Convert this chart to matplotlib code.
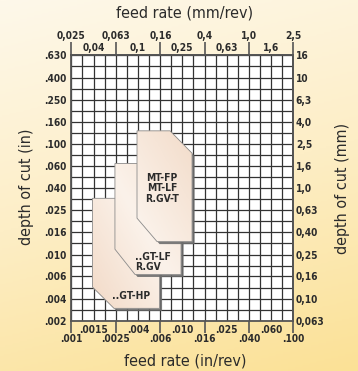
import numpy as np
import matplotlib
matplotlib.use("Agg")
import matplotlib.pyplot as plt
from matplotlib import font_manager as fm
from matplotlib.patches import Polygon
import matplotlib.patheffects as pe
from matplotlib.colors import LinearSegmentedColormap

# feed rate axis: mm/rev on top, in/rev on bottom (same positions)
feed_mm_major = [0.025, 0.063, 0.16, 0.4, 1.0, 2.5]
feed_mm_major_labels = ["0,025", "0,063", "0,16", "0,4", "1,0", "2,5"]
feed_mm_minor = [0.04, 0.1, 0.25, 0.63, 1.6]
feed_mm_minor_labels = ["0,04", "0,1", "0,25", "0,63", "1,6"]
feed_in_major_labels = [".001", ".0025", ".006", ".016", ".040", ".100"]
feed_in_minor_labels = [".0015", ".004", ".010", ".025", ".060"]

# depth of cut axis: mm on the right, in on the left
depth_mm = [0.063, 0.1, 0.16, 0.25, 0.4, 0.63, 1.0, 1.6, 2.5, 4.0, 6.3, 10, 16]
depth_mm_labels = ["0,063", "0,10", "0,16", "0,25", "0,40", "0,63", "1,0",
                   "1,6", "2,5", "4,0", "6,3", "10", "16"]
depth_in_labels = [".002", ".004", ".006", ".010", ".016", ".025", ".040",
                   ".060", ".100", ".160", ".250", ".400", ".630"]

# application areas (feed mm/rev, depth mm), drawn back to front
hp_feed = [0.039, 0.157, 0.157, 0.061, 0.039]
hp_depth = [0.81, 0.81, 0.082, 0.082, 0.128]
hp_label = "..GT-HP"

lf_feed = [0.0622, 0.20, 0.245, 0.245, 0.0943, 0.0622]
lf_depth = [1.67, 1.67, 1.2, 0.166, 0.166, 0.281]
lf_label = "..GT-LF\nR.GV"

fp_feed = [0.0983, 0.195, 0.308, 0.308, 0.149, 0.0983]
fp_depth = [3.30, 3.30, 2.07, 0.329, 0.329, 0.536]
fp_label = "MT-FP\nMT-LF\nR.GV-T"


def pick_font(candidates):
    files = [f.fname for f in fm.fontManager.ttflist]
    for c in candidates:
        for p in files:
            if p.endswith(c):
                return fm.FontProperties(fname=p)
    return None


reg = pick_font(["LiberationSansNarrow-Regular.ttf", "DejaVuSansCondensed.ttf"])
bold = pick_font(["LiberationSansNarrow-Bold.ttf", "DejaVuSansCondensed-Bold.ttf"])
narrow = reg is not None and "Narrow" in reg.get_file()
if reg is None:
    reg = fm.FontProperties(family="DejaVu Sans")
if bold is None:
    bold = fm.FontProperties(family="DejaVu Sans", weight="bold")

TICK_SIZE = 8.4 if narrow else 7.3
TITLE_SIZE = 12.8 if narrow else 11.5
BOX_SIZE = 8.4 if narrow else 7.4
TXT = "#2b2b2b"

fig = plt.figure(figsize=(3.58, 3.71), dpi=100)

# cream to yellow background
bg = fig.add_axes([0, 0, 1, 1], zorder=-10)
yy, xx = np.mgrid[0:1:200j, 0:1:200j]
t = 0.8 * yy + 0.2 * xx
bg_cmap = LinearSegmentedColormap.from_list("bg", ["#fef8ea", "#fdeec6", "#fbe196"])
bg.imshow(t, cmap=bg_cmap, extent=[0, 1, 0, 1], aspect="auto", origin="upper")
bg.axis("off")

ax = fig.add_axes([71 / 358, 50 / 371, 222 / 358, 266 / 371])
ax.set_facecolor("white")
ax.set_xscale("log")
ax.set_yscale("log")
ax.set_xlim(feed_mm_major[0], feed_mm_major[-1])
ax.set_ylim(depth_mm[0], depth_mm[-1])

# grid: label positions plus geometric midpoints
xs = sorted(feed_mm_major + feed_mm_minor)
x_grid = xs + [np.sqrt(a * b) for a, b in zip(xs[:-1], xs[1:])]
y_grid = depth_mm + [np.sqrt(a * b) for a, b in zip(depth_mm[:-1], depth_mm[1:])]
ax.vlines(x_grid, depth_mm[0], depth_mm[-1], color="#333333", lw=0.9, zorder=1)
ax.hlines(y_grid, feed_mm_major[0], feed_mm_major[-1], color="#333333", lw=0.9, zorder=1)

# application areas
fill_cmap = LinearSegmentedColormap.from_list("fill", ["#f0d3bd", "#fbf2ea", "#f1d8c4", "#ecd0ba"])
gy, gx = np.mgrid[0:1:200j, 0:1:200j]
grad = np.clip(0.6 * gx + 0.4 * (1 - gy), 0, 1)
areas = [(hp_feed, hp_depth), (lf_feed, lf_depth), (fp_feed, fp_depth)]
for i, (f, d) in enumerate(areas):
    z = 3 + i
    verts = list(zip(f, d))
    poly = Polygon(verts, closed=True, facecolor="#f3dccb", edgecolor="none", zorder=z,
                   path_effects=[pe.SimplePatchShadow(offset=(1.8, -1.8), shadow_rgbFace="#6e6e6e", alpha=0.9),
                                 pe.Normal()])
    ax.add_patch(poly)
    im = ax.imshow(grad, cmap=fill_cmap, extent=[0, 1, 0, 1], transform=ax.transAxes,
                   aspect="auto", zorder=z + 0.1, origin="upper")
    im.set_clip_path(poly)
    ax.add_patch(Polygon(verts, closed=True, facecolor="none", edgecolor="#8c8c8c",
                         lw=0.6, zorder=z + 0.2))

box_font = bold.copy()
box_font.set_size(BOX_SIZE)
ax.text(0.165, 1.0, fp_label, ha="center", va="center", fontproperties=box_font,
        color=TXT, zorder=10, linespacing=1.05)
ax.text(0.0943, 0.214, lf_label, ha="left", va="center", fontproperties=box_font,
        color=TXT, zorder=10, linespacing=1.05)
ax.text(0.058, 0.107, hp_label, ha="left", va="center", fontproperties=box_font,
        color=TXT, zorder=10)

# bottom axis (in/rev)
ax.set_xticks(feed_mm_major, feed_in_major_labels)
ax.set_xticks(feed_mm_minor, feed_in_minor_labels, minor=True)
ax.tick_params(axis="x", which="major", length=8.5, width=1.2, color="#555555", pad=1.2)
ax.tick_params(axis="x", which="minor", length=0, pad=3)

# left axis (in)
ax.set_yticks(depth_mm, depth_in_labels)
ax.yaxis.set_minor_locator(matplotlib.ticker.NullLocator())
ax.tick_params(axis="y", which="major", length=0, pad=3)

# top axis (mm/rev)
top = ax.secondary_xaxis("top")
top.set_xticks(feed_mm_major, feed_mm_major_labels)
top.set_xticks(feed_mm_minor, feed_mm_minor_labels, minor=True)
top.tick_params(which="major", length=9.5, width=1.2, color="#555555", pad=0.3)
top.tick_params(which="minor", length=0, pad=1.5)

# right axis (mm)
right = ax.secondary_yaxis("right")
right.set_yticks(depth_mm, depth_mm_labels)
right.yaxis.set_minor_locator(matplotlib.ticker.NullLocator())
right.tick_params(which="major", length=0, pad=2)

tick_font = bold.copy()
tick_font.set_size(TICK_SIZE)
for a in (ax, top, right):
    for lab in a.get_xticklabels(which="both") + a.get_yticklabels(which="both"):
        lab.set_fontproperties(tick_font)
        lab.set_color(TXT)
    for sp in a.spines.values():
        sp.set_color("#555555")
        sp.set_linewidth(1.3)

title_font = reg.copy()
title_font.set_size(TITLE_SIZE)
fig.text(185 / 358, 1 - 13 / 371, "feed rate (mm/rev)", ha="center", va="center",
         fontproperties=title_font, color=TXT)
fig.text(185 / 358, 1 - 361 / 371, "feed rate (in/rev)", ha="center", va="center",
         fontproperties=title_font, color=TXT)
fig.text(27 / 358, 1 - 187 / 371, "depth of cut (in)", ha="center", va="center",
         rotation=90, fontproperties=title_font, color=TXT)
fig.text(343 / 358, 1 - 188 / 371, "depth of cut (mm)", ha="center", va="center",
         rotation=90, fontproperties=title_font, color=TXT)

fig.savefig("out.png", dpi=100)
